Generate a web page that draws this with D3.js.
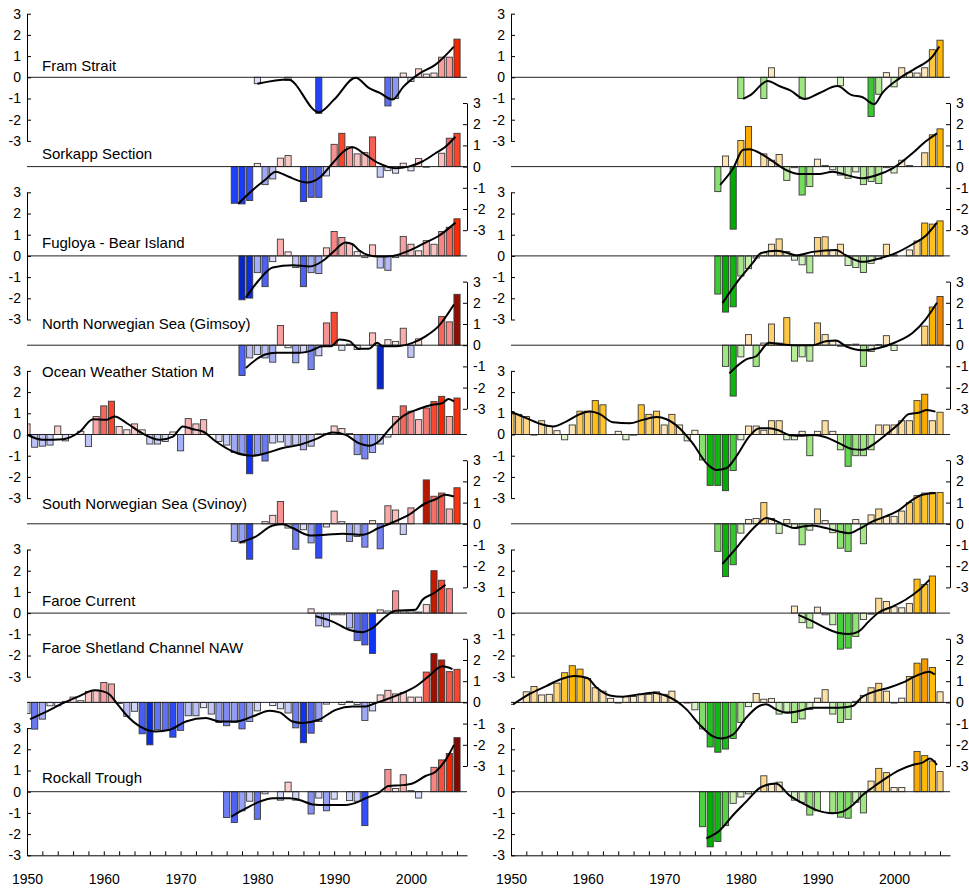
<!DOCTYPE html>
<html><head><meta charset="utf-8">
<script src="https://cdn.jsdelivr.net/npm/d3@7"></script>
<style>
body{margin:0;background:#fff}
svg text{font-family:"Liberation Sans",Arial,Helvetica,sans-serif;fill:#000}
</style>
</head><body>
<svg id="chart" width="969" height="890"></svg>
<script>
// ---------------- DATA ----------------
const panelNames = ["Fram Strait","Sorkapp Section","Fugloya - Bear Island","North Norwegian Sea (Gimsoy)",
  "Ocean Weather Station M","South Norwegian Sea (Svinoy)","Faroe Current","Faroe Shetland Channel NAW","Rockall Trough"];
const yTickValues = [-3,-2,-1,0,1,2,3];
const xTickYears = [1950,1952,1954,1956,1958,1960,1962,1964,1966,1968,1970,1972,1974,1976,1978,1980,1982,1984,1986,1988,1990,1992,1994,1996,1998,2000,2002,2004,2006];
const xLabelYears = [1950,1960,1970,1980,1990,2000];

// ---- temperature anomalies (left column) ----
const framTStart = 1980;
const framT = [-0.3,null,null,null,-0.15,null,null,null,-1.7,null,null,null,null,null,null,null,null,-1.35,-1.0,0.2,-0.2,0.4,0.15,0.2,0.95,0.95,1.8];
const framTLineX = [1980,1984,1988,1990,1992.8,1994.5,1996,1997.6,1999,2001,2003.2,2005.6];
const framTLineY = [-0.3,-0.1,-1.65,-1.05,-0.02,-0.5,-0.75,-1.05,-0.45,0.15,0.6,1.45];

const sorkTStart = 1977;
const sorkT = [-1.73,-1.76,-1.6,0.15,-0.85,-0.58,0.4,0.52,null,-1.65,-1.45,-1.45,-0.44,1.05,1.57,0.94,0.6,0.66,1.4,-0.5,-0.19,-0.31,0.16,-0.2,0.38,-0.03,null,0.63,1.34,1.57];
const sorkTLineX = [1977.5,1979.4,1981,1982.4,1984,1986.5,1988,1989.8,1991.5,1992.4,1994.1,1995.8,1998,1999.7,2001.5,2003.2,2004.5,2005.8];
const sorkTLineY = [-1.75,-1.1,-0.63,-0.24,-0.47,-0.75,-0.55,0.16,0.79,0.91,0.55,0.16,-0.08,0,0.24,0.63,0.94,1.41];

const fuglTStart = 1978;
const fuglT = [-2.07,-1.99,-0.79,-1.45,-0.27,0.79,0.19,-0.55,-1.45,-0.79,-0.83,0.38,1.15,0.87,0.58,0.2,-0.08,0.52,-0.57,-0.68,-0.08,0.92,0.55,0.24,0.72,0.55,1.15,1.35,1.75];
const fuglTLineX = [1978.5,1980.3,1982,1984.6,1986.8,1988.5,1989.8,1991.5,1992.4,1993.2,1994.5,1995.8,1997.6,1999.7,2001.9,2003.6,2005.8];
const fuglTLineY = [-1.97,-1.1,-0.55,-0.44,-0.5,-0.24,0.16,0.63,0.55,0.28,0.03,-0.03,0,0.24,0.63,0.94,1.57];

const gimsTStart = 1978;
const gimsT = [-1.43,-0.6,-0.44,-0.6,-0.8,0.93,-0.12,-0.83,-0.35,-1.15,-0.5,1.05,1.55,-0.24,0.05,-0.2,null,0.58,-2.06,0.26,0.18,0.8,-0.57,0.3,null,null,1.35,1.1,2.4];
const gimsTLineX = [1978.5,1981,1982.4,1985.5,1986.8,1988.5,1989.6,1990.7,1992,1993.2,1994.5,1995.6,1996.3,1998,2000.2,2001.9,2003.6,2005.6];
const gimsTLineY = [-1.07,-0.44,-0.36,-0.36,-0.28,-0.05,-0.05,0.27,0.19,-0.17,-0.17,0.11,-0.05,-0.05,0.11,0.42,0.9,1.92];

const owsTStart = 1950;
const owsT = [0.5,-0.6,-0.55,-0.5,0.4,-0.3,null,0.15,-0.57,0.85,1.35,1.57,0.38,0.22,0.5,0.22,-0.45,-0.45,-0.33,0.12,-0.77,0.75,0.5,0.7,null,-0.33,-0.5,-0.85,-0.95,-1.85,-0.95,-1.25,-0.4,-0.35,-0.55,-0.5,-0.72,-0.55,0.03,0.05,0.4,0.28,0.05,-0.95,-1.15,-0.85,-0.45,-0.12,0.85,1.35,1.1,0.7,1.25,1.55,1.8,0.85,1.72];
const owsTLineX = [1950,1952,1954.7,1956.9,1958.6,1960.3,1961.4,1963,1965,1967.3,1969,1970.3,1971.6,1972.9,1974.6,1976.8,1979.4,1981.1,1983.3,1985.5,1987.6,1989.8,1991.5,1993.2,1994.5,1995.8,1997.1,1998.9,2001,2002.8,2004.1,2004.9,2005.6];
const owsTLineY = [0,-0.25,-0.22,0.14,0.72,0.69,0.85,0.53,0.06,-0.25,-0.1,0.38,0.25,0.14,-0.33,-0.8,-1.0,-0.88,-0.64,-0.49,-0.22,0.09,-0.02,-0.41,-0.53,-0.33,0.22,0.85,1.2,1.4,1.48,1.68,1.56];

const svinTStart = 1977;
const svinT = [-0.83,-0.9,-1.67,null,0.1,0.4,1.05,-0.2,-1.2,-0.28,-0.9,-1.62,-0.15,0.6,0.1,-0.83,-0.6,-1.1,0.15,-1.18,0.85,0.65,-0.5,0.75,null,2.07,1.3,1.45,0.7,1.7];
const svinTLineX = [1977.7,1979.8,1982,1983.3,1984.6,1986.8,1988.9,1991.1,1993.7,1995.8,1997.6,1999.7,2001.9,2003.2,2004.5,2005.6];
const svinTLineY = [-0.88,-0.6,-0.08,-0.02,-0.2,-0.55,-0.52,-0.47,-0.52,-0.2,0.06,0.42,0.97,1.16,1.37,1.29];

const fcTStart = 1987;
const fcT = [0.2,-0.6,-0.65,-0.08,-0.08,-0.7,-1.3,-1.5,-1.9,0.15,0.1,1.05,0.1,0.1,0.05,0.4,2.0,1.55,1.15];
const fcTLineX = [1987.6,1989.8,1992,1993.7,1995,1996.7,1998,2000.6,2001.5,2002.8,2004.5];
const fcTLineY = [-0.15,-0.4,-0.8,-0.9,-0.7,-0.16,0.11,0.16,0.63,0.9,1.34];

const fscTStart = 1950;
const fscT = [-0.53,-1.26,-0.79,-0.16,-0.16,0.05,0.25,0.08,0.52,0.57,0.94,0.87,-0.05,-0.66,-0.42,-1.48,-2.0,-1.29,-1.32,-1.64,-1.32,-0.63,-0.63,-0.25,-0.55,-0.95,-1.1,-0.95,-1.25,-0.9,-0.4,null,-0.15,-0.3,-0.5,-1.2,-1.9,-1.45,-0.9,-0.08,null,-0.1,0.05,-0.1,-0.85,-0.4,0.35,0.57,0.4,0.47,0.25,0.25,1.43,2.3,2.0,1.45,1.56];
const fscTLineX = [1950.4,1952.6,1954.7,1956.9,1958.8,1959.9,1960.8,1961.6,1962.9,1964.7,1966.8,1968.6,1970.7,1973.3,1975.1,1977.2,1979.4,1981.6,1982.9,1984.6,1985.9,1988,1990.2,1992.4,1994.1,1995.4,1996.7,1998.9,2000.6,2002.3,2004.1,2005.4];
const fscTLineY = [-0.79,-0.42,-0.03,0.31,0.57,0.52,0.36,0,-0.58,-1.13,-1.37,-1.29,-0.9,-0.74,-0.9,-0.9,-0.66,-0.39,-0.47,-0.9,-0.97,-0.82,-0.35,-0.19,-0.19,-0.03,0.13,0.44,0.75,1.23,1.7,1.57];

const rockTStart = 1976;
const rockT = [-1.22,-1.45,-0.9,-0.45,-1.3,-0.1,null,-0.4,0.45,-0.4,null,-1.05,-0.3,-0.9,-0.35,null,-0.42,-0.45,-1.6,null,null,1.05,0.15,0.8,0.05,-0.3,null,1.15,1.5,1.8,2.55];
const rockTLineX = [1976.6,1978.5,1980.3,1982,1984.2,1985.5,1987.2,1988.9,1991.5,1993.2,1994.1,1995.8,1997.1,1998.9,2000.2,2001.9,2003.2,2004.5,2005.6];
const rockTLineY = [-1.18,-0.79,-0.47,-0.31,-0.31,-0.39,-0.6,-0.63,-0.63,-0.47,-0.31,-0.05,0.27,0.31,0.39,0.74,0.94,1.49,2.2];

// ---- salinity anomalies (right column) ----
const framSStart = 1980;
const framS = [-1.0,null,null,-1.0,0.45,null,null,null,-1.0,null,null,null,null,-0.4,null,null,null,-1.85,-0.8,0.22,-0.45,0.45,0.22,0.2,0.45,1.3,1.75];
const framSLineX = [1980.3,1981.3,1983.5,1985,1986.5,1988.3,1990.2,1992.6,1994.4,1995.9,1997.4,1998.5,2000.7,2002.8,2005,2005.9];
const framSLineY = [-1.02,-0.83,-0.17,-0.41,-0.63,-1.02,-0.75,-0.41,-0.83,-0.94,-1.27,-0.72,-0.05,0.42,0.97,1.45];

const sorkSStart = 1977;
const sorkS = [-1.18,0.5,-2.95,1.23,1.89,null,0.6,0.3,0.57,-0.65,-0.05,-1.34,-0.94,0.35,0.05,-0.15,-0.4,-0.55,-0.25,-0.85,-0.7,-0.8,-0.05,-0.3,0.3,0.05,null,0.65,1.5,1.78];
const sorkSLineX = [1977.3,1979,1980.3,1981.1,1982.9,1984.2,1985.9,1987.6,1990.2,1992,1993.7,1995.9,1997.6,1999.8,2001.1,2002.4,2004.1,2005.6];
const sorkSLineY = [-0.86,-0.08,0.79,0.82,0.55,0.24,-0.16,-0.35,-0.35,-0.24,-0.39,-0.55,-0.42,-0.08,0.24,0.63,1.18,1.57];

const fuglSStart = 1977;
const fuglS = [-1.8,-2.65,-2.4,-0.95,-0.6,-0.1,0.15,0.55,0.8,0.2,-0.2,-0.42,-0.8,0.87,0.9,0.25,0.55,-0.45,-0.55,-0.78,-0.35,-0.15,0.55,0.05,null,0.28,0.7,1.55,1.5,1.65];
const fuglSLineX = [1977.6,1979.8,1981.6,1982.6,1984.6,1985.9,1987.2,1989.4,1992.4,1993.7,1995.9,1998,2000.2,2002.4,2004.1,2005.6];
const fuglSLineY = [-2.23,-1.1,-0.31,0.13,0.24,0.16,0.03,0.19,0.28,0.03,-0.28,-0.13,0.13,0.55,0.94,1.57];

const gimsSStart = 1978;
const gimsS = [-1.0,-2.4,-0.55,0.5,-1.0,0.1,1.0,0.1,1.3,-0.75,-0.55,-0.75,1.05,0.5,0.2,-0.05,0.03,0.05,-1.0,-0.3,0.03,0.45,-0.25,null,null,null,0.9,1.8,2.3];
const gimsSLineX = [1978.5,1980.7,1982,1983.7,1985,1986.8,1989.4,1991.1,1992.4,1993.7,1995.9,1998,2000.2,2002.4,2004.1,2005.6];
const gimsSLineY = [-1.33,-0.67,-0.52,0.11,0.06,0,0,0.19,0.22,-0.05,-0.24,-0.13,0.14,0.58,1.21,2.0];

const owsSStart = 1950;
const owsS = [1.08,0.95,0.85,-0.03,0.65,0.38,0.18,-0.25,0.45,1.1,1.1,1.6,1.4,null,0.15,-0.25,-0.03,1.4,0.95,1.1,0.45,0.95,0.45,-0.3,0.2,-1.2,-2.4,-2.4,-2.65,-1.7,-0.25,0.4,0.4,0.2,0.65,0.65,-0.25,-0.25,0.15,-1.0,0.15,0.65,0.15,-0.72,-1.5,-1.0,-1.0,-0.72,0.45,0.45,0.45,0.65,0.65,1.6,1.9,0.65,1.05];
const owsSLineX = [1950,1952,1954.2,1955.5,1957.2,1959,1960.3,1961.6,1963.3,1965.5,1967.2,1969,1970.3,1972,1973.7,1975.5,1976.8,1978.1,1979.4,1981.1,1982.4,1983.7,1985,1986.3,1988.1,1989.4,1991.1,1992.8,1994.6,1995.9,1997.2,1998.9,2000.7,2001.9,2003.3,2004.3,2005.4];
const owsSLineY = [1.08,0.77,0.46,0.38,0.61,0.96,1.08,0.96,0.58,0.53,0.69,0.82,0.72,0.3,-0.41,-1.35,-1.67,-1.59,-1.04,-0.09,0.3,0.3,0.19,-0.02,-0.06,-0.02,-0.13,-0.41,-0.69,-0.72,-0.49,-0.02,0.53,0.96,1.04,1.16,1.08];

const svinSStart = 1977;
const svinS = [-1.3,-2.49,-1.93,-0.44,0.2,0.25,1.0,0.25,-0.45,0.2,-0.2,-0.99,-0.3,0.7,0.15,-0.42,-1.15,-1.3,0.2,-0.94,0.42,0.7,0.35,0.35,0.6,1.0,1.33,1.45,1.48,1.48];
const svinSLineX = [1977.6,1979.4,1980.3,1982,1983.3,1984.2,1985.9,1987,1988.1,1989.4,1991.1,1992.8,1994.1,1995.4,1997.2,1998.9,2000.7,2002.4,2003.7,2005.4];
const svinSLineY = [-1.89,-1.15,-0.75,-0.08,0.27,0.19,-0.08,-0.2,-0.13,-0.08,-0.2,-0.36,-0.44,-0.25,0.11,0.35,0.66,1.13,1.37,1.45];

const fcSStart = 1987;
const fcS = [0.33,-0.45,-0.7,0.28,-0.08,-0.55,-1.7,-1.65,-1.1,-0.3,-0.05,0.7,0.55,0.3,0.25,0.45,1.6,1.35,1.75];
const fcSLineX = [1987.5,1989.4,1991.1,1992.8,1994.1,1995.4,1996.7,1998,1999.8,2001.5,2003.3,2004.6];
const fcSLineY = [-0.08,-0.39,-0.71,-0.94,-0.99,-0.86,-0.39,0.03,0.31,0.63,1.1,1.57];

const fscSStart = 1950;
const fscS = [-0.1,null,0.5,0.75,0.35,0.38,0.91,1.4,1.73,1.57,1.13,0.69,0.53,0.19,-0.03,0.28,0.28,0.38,0.38,0.5,0.38,0.53,null,-0.03,-0.35,-1.25,-2.1,-2.35,-2.2,-1.7,-0.95,-0.2,0.42,0.15,0.18,-0.55,-0.45,-0.95,-0.78,-0.33,0.2,0.6,-0.55,-0.95,-0.8,0.05,0.33,0.69,0.9,0.53,-0.03,0.2,1.22,1.85,2.05,1.65,0.5];
const fscSLineX = [1950.3,1952.5,1954.6,1956.4,1958.3,1959.9,1961.2,1962.9,1964.6,1966.8,1968.5,1970.3,1971.6,1972.9,1974.6,1976.3,1977.4,1979,1980.7,1982.4,1983.3,1984.6,1985.9,1987.6,1989.4,1991.1,1992.8,1994.6,1995.7,1997.6,1999.3,2001.1,2002.8,2004.6,2005.3];
const fscSLineY = [-0.09,0.41,0.77,1.08,1.24,1.16,0.69,0.33,0.27,0.38,0.46,0.3,0.06,-0.33,-1.04,-1.59,-1.7,-1.51,-0.72,-0.17,-0.09,-0.33,-0.49,-0.41,-0.25,-0.25,-0.25,-0.17,0.22,0.53,0.69,0.93,1.24,1.45,1.32];

const rockSStart = 1975;
const rockS = [-1.65,-2.6,-2.35,-1.6,-0.55,-0.25,-0.1,null,0.75,0.35,0.45,null,-0.4,-0.5,-1.1,-0.9,null,-1.0,-1.2,-1.25,-0.5,-1.0,0.5,1.1,0.9,0.2,0.2,null,1.9,1.7,1.45,0.95];
const rockSLineX = [1975.5,1977.2,1979,1980.7,1982.4,1983.7,1984.6,1986.3,1988.1,1989.8,1992,1993.3,1994.6,1995.9,1997.2,1998.9,2000.7,2002.4,2003.7,2004.7,2005.6];
const rockSLineY = [-2.2,-1.84,-1.1,-0.47,0.16,0.35,0.39,-0.16,-0.55,-0.86,-1.02,-0.94,-0.63,-0.16,0.2,0.63,1.02,1.26,1.37,1.57,1.26];

// ---------------- TABLES built from the arrays ----------------
const tempSeries = [
  [framTStart,framT,framTLineX,framTLineY],[sorkTStart,sorkT,sorkTLineX,sorkTLineY],
  [fuglTStart,fuglT,fuglTLineX,fuglTLineY],[gimsTStart,gimsT,gimsTLineX,gimsTLineY],
  [owsTStart,owsT,owsTLineX,owsTLineY],[svinTStart,svinT,svinTLineX,svinTLineY],
  [fcTStart,fcT,fcTLineX,fcTLineY],[fscTStart,fscT,fscTLineX,fscTLineY],[rockTStart,rockT,rockTLineX,rockTLineY]];
const salSeries = [
  [framSStart,framS,framSLineX,framSLineY],[sorkSStart,sorkS,sorkSLineX,sorkSLineY],
  [fuglSStart,fuglS,fuglSLineX,fuglSLineY],[gimsSStart,gimsS,gimsSLineX,gimsSLineY],
  [owsSStart,owsS,owsSLineX,owsSLineY],[svinSStart,svinS,svinSLineX,svinSLineY],
  [fcSStart,fcS,fcSLineX,fcSLineY],[fscSStart,fscS,fscSLineX,fscSLineY],[rockSStart,rockS,rockSLineX,rockSLineY]];

// ---------------- COLOURS ----------------
const tPos = d3.scaleLinear().domain([0,0.3,0.7,1.1,1.45,1.75,2.05,2.6])
  .range(["#fff2f2","#fddcdc","#fab6b6","#f68d8d","#f5574a","#ff2a00","#b81800","#7a0800"]).clamp(true);
const tNeg = d3.scaleLinear().domain([0,0.3,0.7,1.05,1.45,1.75,1.95,2.1])
  .range(["#f4f4ff","#dcdffa","#b2b9f6","#8591f2","#4d62f2","#1a3cff","#0a30f0","#0824b8"]).clamp(true);
const sPos = d3.scaleLinear().domain([0,0.3,0.7,1.0,1.4,1.7,2.0,2.3])
  .range(["#fff8ea","#fdeccc","#fddc98","#fdd070","#fec430","#ffbb00","#f7a000","#ef8600"]).clamp(true);
const sNeg = d3.scaleLinear().domain([0,0.3,0.7,1.0,1.4,1.8,2.3,2.7])
  .range(["#f2fbec","#dcf5cc","#bcee9f","#9ee680","#6ed957","#3ccb33","#12bb12","#00aa00"]).clamp(true);

// ---------------- LAYOUT ----------------
const svg = d3.select("#chart");
const columns = [
  {x0:27, x1:467, series:tempSeries, pos:tPos, neg:tNeg, labels:true},
  {x0:511, x1:950, series:salSeries, pos:sPos, neg:sNeg, labels:false}];
const zeroTop = 77.3, panelStep = 89.3, unitPx = 21.2;
const labelDy = [-6.6,-7.4,-8.4,-16.4,-58,-15,-7.3,-49.7,-8.4];
const FONT = '"Liberation Sans",Arial,Helvetica,sans-serif';

columns.forEach((col, ci) => {
  const x = d3.scaleLinear().domain([1950, 2007.3]).range([col.x0, col.x1]);
  const clipId = "clip" + ci;
  svg.append("clipPath").attr("id", clipId).append("rect")
    .attr("x", col.x0).attr("y", 0).attr("width", col.x1 - col.x0).attr("height", 890);

  col.series.forEach((s, i) => {
    const [start, vals, lx, ly] = s;
    const z = zeroTop + i * panelStep;
    const y = d3.scaleLinear().domain([-3, 3]).range([z + 3 * unitPx, z - 3 * unitPx]);
    const g = svg.append("g");
    const data = vals.map((v, k) => ({year: start + k, v})).filter(d => d.v !== null);
    const bw = x(1950.4) - x(1949.6);

    g.append("g").attr("clip-path", `url(#${clipId})`).selectAll("rect").data(data).join("rect")
      .attr("x", d => x(d.year) - bw / 2)
      .attr("width", bw)
      .attr("y", d => Math.min(y(d.v), y(0)))
      .attr("height", d => Math.abs(y(d.v) - y(0)))
      .attr("fill", d => d.v >= 0 ? col.pos(d.v) : col.neg(-d.v))
      .attr("stroke", "#3a3a3a").attr("stroke-width", 0.9);

    g.append("line").attr("x1", col.x0).attr("x2", col.x1)
      .attr("y1", y(0)).attr("y2", y(0)).attr("stroke", "#222").attr("stroke-width", 1);

    const pts = lx.map((xx, k) => [xx, ly[k]]);
    g.append("path").datum(pts)
      .attr("d", d3.line().x(d => x(d[0])).y(d => y(d[1])).curve(d3.curveMonotoneX))
      .attr("fill", "none").attr("stroke", "#000").attr("stroke-width", 2)
      .attr("stroke-linejoin", "round");

    const left = i % 2 === 0;
    const axis = (left ? d3.axisLeft(y) : d3.axisRight(y))
      .tickValues(yTickValues).tickSize(-4).tickSizeOuter(0).tickPadding(6)
      .tickFormat(d => String(d));
    const ag = g.append("g").attr("transform", `translate(${left ? col.x0 : col.x1},0)`).call(axis);
    ag.attr("font-family", FONT).attr("font-size", 14);
    ag.selectAll("path,line").attr("stroke", "#000");

    if (col.labels) {
      g.append("text").attr("x", 42).attr("y", z + labelDy[i])
        .attr("font-size", 15).text(panelNames[i]);
    }
  });

  // bottom x axis
  const yb = zeroTop + 8 * panelStep + 3 * unitPx;
  const xa = d3.axisBottom(x).tickValues(xTickYears).tickSize(-4).tickSizeOuter(0).tickPadding(19)
    .tickFormat(d => xLabelYears.includes(d) ? String(d) : "");
  const xg = svg.append("g").attr("transform", `translate(0,${yb})`).call(xa);
  xg.attr("font-family", FONT).attr("font-size", 14);
  xg.selectAll("path,line").attr("stroke", "#000");
});
</script>
</body></html>
